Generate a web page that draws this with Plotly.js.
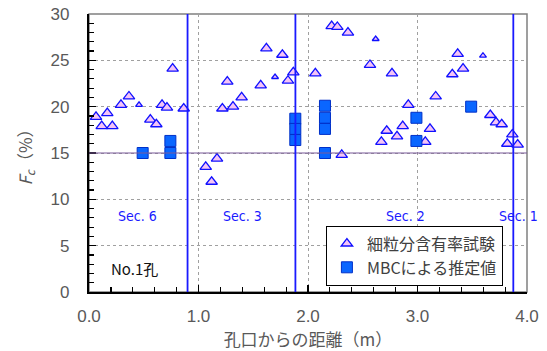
<!DOCTYPE html>
<html>
<head>
<meta charset="utf-8">
<script src="https://cdn.plot.ly/plotly-3.0.1.min.js"></script>
<style>
html,body{margin:0;padding:0;background:#fff;}
#chart{width:547px;height:351px;}
text.annotation-text{font-stretch:condensed;}
</style>
</head>
<body>
<div id="chart"></div>
<script>
// Fine-content test (細粒分含有率試験) – regular markers
const testDistance = [0.064,0.116,0.167,0.213,0.292,0.365,0.56,0.615,0.667,0.712,0.764,0.865,
  1.066,1.12,1.169,1.218,1.263,1.315,1.394,1.568,1.62,1.766,1.817,1.866,
  2.067,2.216,2.268,2.308,2.365,2.566,2.67,2.719,2.767,2.813,2.865,2.916,
  3.071,3.114,3.166,3.318,3.367,3.416,3.665,3.717,3.769,3.82,3.866,3.915];
const testFc = [18.9,17.9,19.3,17.9,20.2,21.1,18.6,18.1,20.2,19.9,24.1,19.8,
  13.5,11.9,14.4,19.8,22.7,20.0,21.0,22.3,26.3,25.6,22.8,23.7,
  23.6,28.7,28.6,14.8,28.0,24.5,16.2,17.4,23.6,16.8,17.9,20.2,
  16.2,17.6,21.1,23.5,25.7,24.1,19.1,18.3,18.1,16.0,17.0,15.9];
// Fine-content test – small markers
const testDistanceSmall = [0.457,1.699,2.618,3.598];
const testFcSmall = [20.2,23.2,27.3,25.5];
// MBC estimates (MBCによる推定値)
const mbcDistance = [0.49,0.743,0.743,1.884,1.884,1.884,2.155,2.155,2.155,2.155,2.99,2.99,3.49];
const mbcFc = [15.0,16.3,15.0,18.7,17.6,16.4,20.1,18.8,17.6,15.0,18.8,16.3,20.0];
// Section boundaries and reference level
const sectionBoundaries = [0.90,1.885,3.875];
const referenceFc = [15];
const sectionLabels = ['Sec. 6','Sec. 3','Sec. 2','Sec. 1'];
const boreholeLabel = 'No.1孔';
const legendNames = ['細粒分含有率試験','MBCによる推定値'];
const xTicks = [0,1,2,3,4];
const yTicks = [0,5,10,15,20,25,30];

const JP = '"Noto Sans CJK JP", "Noto Sans", sans-serif';
const NUM = '"Liberation Sans", Arial, sans-serif';
const NARROW = '"DejaVu Sans", sans-serif';
const triLine = {color:'#1010ff', width:1.3};
const triFill = '#f4c4f6';

const traces = [
  {x:testDistance, y:testFc, type:'scatter', mode:'markers', name:legendNames[0],
   marker:{symbol:'triangle-up', size:10, color:triFill, line:triLine}},
  {x:testDistanceSmall, y:testFcSmall, type:'scatter', mode:'markers', showlegend:false,
   marker:{symbol:'triangle-up', size:6, color:triFill, line:triLine}},
  {x:mbcDistance, y:mbcFc, type:'scatter', mode:'markers', name:legendNames[1],
   marker:{symbol:'square', size:11, color:'#0a66ff', line:{color:'#0030c8', width:1}}}
];

const shapes = [
  {type:'rect', xref:'paper', yref:'paper', x0:0, x1:1, y0:0, y1:1,
   line:{color:'#808080', width:1.5}, layer:'below'}
];
referenceFc.forEach(v => shapes.push({type:'line', xref:'x', yref:'y', x0:0, x1:4, y0:v, y1:v,
  line:{color:'#7a5a9a', width:1.2}, layer:'above'}));
sectionBoundaries.forEach(v => shapes.push({type:'line', xref:'x', yref:'y', x0:v, x1:v, y0:0, y1:30,
  line:{color:'#1a1aff', width:1.8}, layer:'above'}));

const secPos = [0.447,1.406,2.886,3.918];
const annotations = sectionLabels.map((t,i) => ({x:secPos[i], y:8.2, xref:'x', yref:'y', text:t,
  showarrow:false, font:{family:NARROW, size:14, color:'#1a1aff'}}));
annotations.push({x:0.42, y:2.5, xref:'x', yref:'y', text:boreholeLabel, showarrow:false,
  font:{family:JP, size:15, color:'#111'}});

const axisCommon = {
  tickmode:'array',
  ticks:'inside', ticklen:7, tickwidth:1.2, tickcolor:'#000',
  showline:true, linecolor:'#000', linewidth:2.2,
  showgrid:true, gridcolor:'#a0a0a0', griddash:'dot', gridwidth:1,
  zeroline:false, tickfont:{family:NUM, size:17, color:'#595959'}
};

const layout = {
  width:547, height:351,
  margin:{l:89, r:20, t:14, b:59},
  paper_bgcolor:'#fff', plot_bgcolor:'#fff',
  showlegend:true,
  xaxis:Object.assign({}, axisCommon, {
    range:[0,4], tickvals:xTicks, ticktext:xTicks.map(v => v.toFixed(1)),
    ticklabelstandoff:7,
    minor:{dtick:0.2, tick0:0, ticks:'inside', ticklen:5, tickcolor:'#000', showgrid:false},
    title:{text:'孔口からの距離（m）', font:{family:JP, size:17, color:'#595959'}, standoff:2}
  }),
  yaxis:Object.assign({}, axisCommon, {
    range:[0,30], tickvals:yTicks, ticktext:yTicks.map(String),
    ticklabelstandoff:14,
    minor:{dtick:1, tick0:0, ticks:'inside', ticklen:5, tickcolor:'#000', showgrid:false},
    title:{text:'<i>F<sub>c</sub></i>（%）', font:{family:JP, size:17, color:'#595959'}, standoff:14}
  }),
  legend:{x:0.945, y:0.023, xanchor:'right', yanchor:'bottom',
    bgcolor:'#fff', bordercolor:'#000', borderwidth:1,
    font:{family:JP, size:16, color:'#404040'}, itemwidth:30, tracegroupgap:0},
  shapes:shapes,
  annotations:annotations
};

Plotly.newPlot('chart', traces, layout, {staticPlot:true, displayModeBar:false});
</script>
</body>
</html>
